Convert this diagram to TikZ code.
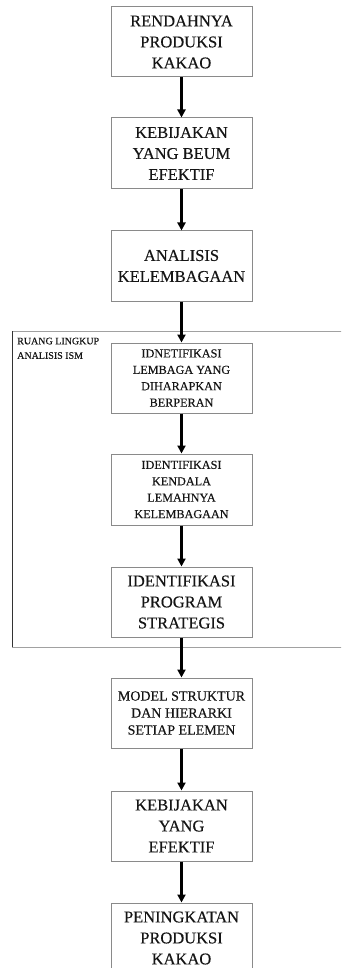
\documentclass[tikz,border=0pt]{standalone}
\usepackage{fontspec}
\setmainfont[FakeBold=0.3]{Liberation Serif}
\usetikzlibrary{arrows.meta}
\definecolor{boxgray}{HTML}{8A8A8A}
\definecolor{txt}{HTML}{151515}
\begin{document}
\begin{tikzpicture}[x=1pt,y=-1pt,
  box/.style={draw=boxgray,line width=1pt,minimum width=141pt,minimum height=70pt,
    inner sep=0pt,align=center,text=txt,font=\fontsize{16.5}{21}\selectfont},
  smallbox/.style={box,font=\fontsize{12.2}{16.4}\selectfont},
  midbox/.style={box,font=\fontsize{14}{17}\selectfont},
  flow/.style={line width=3.4pt,black,-{Triangle[length=8pt,width=8pt]}}]
\useasboundingbox (0,0) rectangle (341,968);
\clip (0,0) rectangle (341,968);
% ISM frame
\draw[line width=1pt,boxgray!80] (345,331) -- (12,331);
\draw[line width=1pt,boxgray!80] (12,647) -- (345,647);
\draw[line width=1pt,black!80] (12,331) -- (12,647);
\node[anchor=north west,inner sep=0pt,align=left,text=txt,font=\fontsize{10}{14.5}\selectfont] (lbl) at (17,337.5) {RUANG LINGKUP\\ANALISIS ISM};
% boxes
\node[box] (b1) at (181.5,42) {RENDAHNYA\\PRODUKSI\\KAKAO};
\node[box,minimum height=71pt] (b2) at (181.5,153.5) {KEBIJAKAN\\YANG BEUM\\EFEKTIF};
\node[box] (b3) at (181.5,266) {ANALISIS\\KELEMBAGAAN};
\node[smallbox] (b4) at (181.5,378) {IDNETIFIKASI\\LEMBAGA YANG\\DIHARAPKAN\\BERPERAN};
\node[smallbox,minimum height=71pt] (b5) at (181.5,489.5) {IDENTIFIKASI\\KENDALA\\LEMAHNYA\\KELEMBAGAAN};
\node[box] (b6) at (181.5,602) {IDENTIFIKASI\\PROGRAM\\STRATEGIS};
\node[midbox] (b7) at (181.5,713) {MODEL STRUKTUR\\DAN HIERARKI\\SETIAP ELEMEN};
\node[box] (b8) at (181.5,826) {KEBIJAKAN\\YANG\\EFEKTIF};
\node[box] (b9) at (181.5,938) {PENINGKATAN\\PRODUKSI\\KAKAO};
% arrows
\foreach \a/\b in {b1/b2,b2/b3,b3/b4,b4/b5,b5/b6,b6/b7,b7/b8,b8/b9}
  \draw[flow] (\a.south) -- (\b.north);
\end{tikzpicture}
\end{document}
